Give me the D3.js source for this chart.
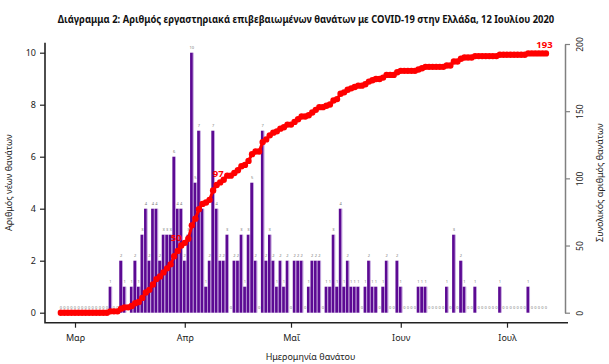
<!DOCTYPE html>
<html>
<head>
<meta charset="utf-8">
<script src="https://cdn.jsdelivr.net/npm/d3@7"></script>
<style>
  body { margin: 0; background: #fff; }
  svg { display: block; }
</style>
</head>
<body>
<script>
// data: daily deaths from 26 Feb 2020 to 12 Jul 2020
var startDate = "2020-02-26";
var dailyDeaths = [
  0, 0, 0, 0, 0, 0, 0, 0, 0, 0, 0, 0, 0, 0,      // 26 Feb - 10 Mar
  1, 0, 0, 2, 1, 0, 1, 2, 1, 3, 4, 2, 4, 4, 2,   // 11 Mar - 25 Mar
  3, 3, 3, 6, 4, 4,                              // 26 Mar - 31 Mar
  2, 3, 10, 5, 7, 4, 1, 2, 7, 4, 2, 2, 3, 0, 2,  // 1 Apr - 15 Apr
  2, 3, 1, 3, 5, 2, 0, 7, 2, 3, 2, 1, 2, 1, 2,   // 16 Apr - 30 Apr
  0, 2, 2, 2, 0, 1, 2, 2, 2, 0, 1, 1, 3, 1, 4,   // 1 May - 15 May
  1, 2, 1, 1, 1, 0, 1, 2, 1, 1, 0, 1, 2, 0, 0, 2, // 16 May - 31 May
  1, 0, 0, 0, 0, 1, 1, 1, 0, 0, 0, 0, 0, 1, 0,   // 1 Jun - 15 Jun
  3, 0, 2, 1, 0, 0, 1, 0, 0, 0, 0, 0, 0, 1, 0,   // 16 Jun - 30 Jun
  0, 0, 0, 0, 0, 0, 1, 0, 0, 0, 0, 0             // 1 Jul - 12 Jul
];
var monthTicks = ["2020-03-01", "2020-04-01", "2020-05-01", "2020-06-01", "2020-07-01"];
var monthLabels = ["Μαρ", "Απρ", "Μαΐ", "Ιουν", "Ιουλ"];
var leftTicks = [0, 2, 4, 6, 8, 10];
var rightTicks = [0, 50, 100, 150, 200];
var highlightDates = ["2020-03-31", "2020-04-11", "2020-07-12"];

var W = 609, H = 364;
var box = { left: 45, right: 568, top: 42.7, bottom: 322.7 };

var parse = d3.utcParse("%Y-%m-%d");
var t0 = parse(startDate);
var cumulative = d3.cumsum(dailyDeaths);
var data = dailyDeaths.map(function (v, i) {
  return { date: d3.utcDay.offset(t0, i), value: v, total: cumulative[i] };
});

var svg = d3.select("body").append("svg")
  .attr("width", W)
  .attr("height", H)
  .style("font-family", "'Noto Sans', 'Open Sans', sans-serif");

// scales
var xScale = d3.scaleUtc()
  .domain([parse(monthTicks[0]), parse(monthTicks[4])])
  .range([75, 507]);
var yLeft = d3.scaleLinear().domain([0, 10]).range([312.7, 52.7]);
var yRight = d3.scaleLinear().domain([0, 200]).range([312.7, 44]);

var dayW = xScale(d3.utcDay.offset(t0, 1)) - xScale(t0);

// bars (dark body + light right edge)
var bars = svg.append("g").selectAll("g")
  .data(data.filter(function (d) { return d.value > 0; }))
  .enter().append("g");

bars.append("rect")
  .attr("x", function (d) { return xScale(d.date) - dayW / 2; })
  .attr("y", function (d) { return yLeft(d.value); })
  .attr("width", dayW * 0.78)
  .attr("height", function (d) { return yLeft(0) - yLeft(d.value); })
  .attr("fill", "#5c0a93");

bars.append("rect")
  .attr("x", function (d) { return xScale(d.date) - dayW / 2 + dayW * 0.78; })
  .attr("y", function (d) { return yLeft(d.value); })
  .attr("width", dayW * 0.22)
  .attr("height", function (d) { return yLeft(0) - yLeft(d.value); })
  .attr("fill", "#b894d8");

// value labels above bars
svg.append("g").selectAll("text")
  .data(data)
  .enter().append("text")
  .attr("x", function (d) { return xScale(d.date); })
  .attr("y", function (d) { return yLeft(d.value) - 4; })
  .attr("text-anchor", "middle")
  .style("font-size", "4px")
  .style("fill", "#777")
  .text(function (d) { return d.value; });

// cumulative line
var line = d3.line()
  .x(function (d) { return xScale(d.date); })
  .y(function (d) { return yRight(d.total); });

svg.append("path")
  .datum(data)
  .attr("d", line)
  .attr("fill", "none")
  .attr("stroke", "red")
  .attr("stroke-width", 3);

svg.append("g").selectAll("circle")
  .data(data)
  .enter().append("circle")
  .attr("cx", function (d) { return xScale(d.date); })
  .attr("cy", function (d) { return yRight(d.total); })
  .attr("r", 3.2)
  .attr("fill", "red");

var hl = highlightDates.map(function (s) {
  var t = parse(s).getTime();
  return data.find(function (d) { return d.date.getTime() === t; });
});
var hlShift = [-5, -2, -1.5];
svg.append("g").selectAll("text")
  .data(hl)
  .enter().append("text")
  .attr("x", function (d, i) { return xScale(d.date) + hlShift[i]; })
  .attr("y", function (d) { return yRight(d.total) - 5; })
  .attr("text-anchor", "middle")
  .style("font-size", "9.5px")
  .style("font-weight", "bold")
  .style("fill", "red")
  .text(function (d) { return d.total; });

// box (left and bottom)
svg.append("path")
  .attr("d", "M" + box.left + "," + box.top + "V" + box.bottom + "H" + box.right)
  .attr("fill", "none")
  .attr("stroke", "#222")
  .attr("stroke-width", 1.6);

// left axis
var gl = svg.append("g")
  .attr("transform", "translate(" + box.left + ",0)")
  .call(d3.axisLeft(yLeft).tickValues(leftTicks).tickSize(5).tickPadding(4));
gl.select(".domain").remove();
gl.selectAll("line").attr("stroke", "#222").attr("stroke-width", 1.2);
gl.selectAll("text").style("font-size", "9px").style("fill", "#222").style("font-family", "'Noto Sans', sans-serif");

// bottom axis
var gb = svg.append("g")
  .attr("transform", "translate(0," + box.bottom + ")")
  .call(d3.axisBottom(xScale)
    .tickValues(monthTicks.map(parse))
    .tickFormat(function (d, i) { return monthLabels[i]; })
    .tickSize(5).tickPadding(7));
gb.select(".domain").remove();
gb.selectAll("line").attr("stroke", "#222").attr("stroke-width", 1.2);
gb.selectAll("text").style("font-size", "9px").style("fill", "#222").style("font-family", "'Noto Sans', sans-serif");

// right axis
var gr = svg.append("g")
  .attr("transform", "translate(565,0)")
  .call(d3.axisRight(yRight).tickValues(rightTicks).tickSize(5).tickSizeOuter(0));
gr.select(".domain").attr("stroke", "#808080").attr("stroke-width", 1.5);
gr.selectAll("line").attr("stroke", "#808080").attr("stroke-width", 1.2);
gr.selectAll("text")
  .attr("x", 0).attr("y", 0).attr("dy", "0.35em")
  .attr("transform", "translate(15,0) rotate(-90)")
  .attr("text-anchor", "middle")
  .style("font-size", "8.5px").style("fill", "#222").style("font-family", "'Noto Sans', sans-serif");

// chart title, squeezed horizontally to the reference width
var title = svg.append("text")
  .attr("text-anchor", "middle")
  .style("font-size", "11px")
  .style("font-weight", "bold")
  .style("fill", "#111")
  .text("Διάγραμμα 2: Αριθμός εργαστηριακά επιβεβαιωμένων θανάτων με COVID-19 στην Ελλάδα, 12 Ιουλίου 2020");
var tw = title.node().getComputedTextLength();
var k = Math.min(1, 497 / tw);
title.attr("transform", "translate(306,23) scale(" + k + ",1)");

svg.append("text")
  .attr("transform", "translate(12,182.7) rotate(-90)")
  .attr("text-anchor", "middle")
  .style("font-size", "9px")
  .style("fill", "#222")
  .text("Αριθμός νέων θανάτων");

svg.append("text")
  .attr("transform", "translate(603,182.7) rotate(-90)")
  .attr("text-anchor", "middle")
  .style("font-size", "9px")
  .style("fill", "#222")
  .text("Συνολικός αριθμός θανάτων");

svg.append("text")
  .attr("x", (box.left + box.right) / 2 + 4).attr("y", 360)
  .attr("text-anchor", "middle")
  .style("font-size", "9px")
  .style("fill", "#222")
  .text("Ημερομηνία θανάτου");
</script>
</body>
</html>
